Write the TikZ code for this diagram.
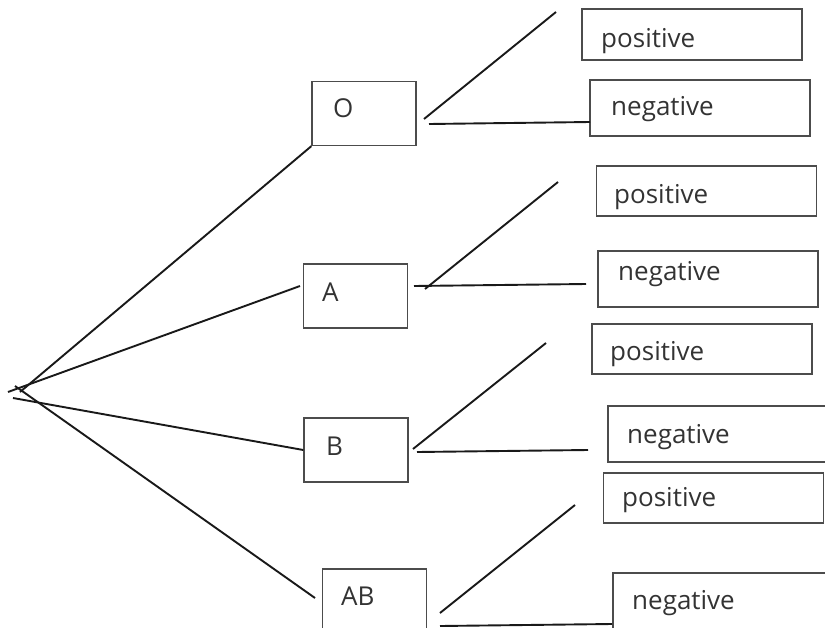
\documentclass[tikz,border=0pt]{standalone}
\usepackage{fontspec}
\setmainfont{Open Sans}
\begin{document}
\begin{tikzpicture}[x=1pt,y=-1pt,
  typebox/.style={draw=black!70,line width=1.3pt,minimum width=104pt,minimum height=64pt,inner sep=0pt},
  resbox/.style={draw=black!70,line width=1.3pt,minimum width=220pt,inner sep=0pt},
  lbl/.style={anchor=base west,inner sep=0pt,text=black!80,font=\fontsize{26}{30}\selectfont},
  branch/.style={line width=1.9pt,black!90}]
\useasboundingbox (0,0) rectangle (825,627);
\clip (0,0) rectangle (825,627);

% blood group boxes
\node[typebox] (O)  at (364,113.5) {};
\node[typebox] (A)  at (355.5,296) {};
\node[typebox] (B)  at (356,450) {};
\node[typebox] (AB) at (374.5,601) {};
\node[lbl] (Ot)  at (333,117) {O};
\node[lbl] (At)  at (322,301) {A};
\node[lbl] (Bt)  at (326,455) {B};
\node[lbl] (ABt) at (341,605) {AB};

% rhesus result boxes
\node[resbox,minimum height=51pt] (p1) at (692,34.5)  {};
\node[resbox,minimum height=56pt] (n1) at (700,108)   {};
\node[resbox,minimum height=50pt] (p2) at (706.5,191) {};
\node[resbox,minimum height=56pt] (n2) at (708,279)   {};
\node[resbox,minimum height=50pt] (p3) at (702,349)   {};
\node[resbox,minimum height=56pt] (n3) at (718,434)   {};
\node[resbox,minimum height=50pt] (p4) at (713.5,498) {};
\node[resbox,minimum height=56pt] (n4) at (723,601)   {};
\node[lbl] (p1t) at (601,47)  {positive};
\node[lbl] (n1t) at (611,115) {negative};
\node[lbl] (p2t) at (614,203) {positive};
\node[lbl] (n2t) at (618,280) {negative};
\node[lbl] (p3t) at (610,360) {positive};
\node[lbl] (n3t) at (627,443) {negative};
\node[lbl] (p4t) at (622,506) {positive};
\node[lbl] (n4t) at (632,609) {negative};

% root strokes
\coordinate (r1) at (20,392);
\coordinate (r2) at (8,392);
\coordinate (r3) at (13,398);
\coordinate (r4) at (15,386);
\coordinate (eA)  at (300,286);
\coordinate (eAB) at (315,598);
\draw[branch] (r1) -- (O.south west);
\draw[branch] (r2) -- (eA);
\draw[branch] (r3) -- (B.west);
\draw[branch] (r4) -- (eAB);

% branches from O
\coordinate (o1) at (424,119); \coordinate (o1e) at (556,12);
\coordinate (o2) at (429,124); \coordinate (o2e) at (590,122);
\draw[branch] (o1) -- (o1e);
\draw[branch] (o2) -- (o2e);
% branches from A
\coordinate (a1) at (425,289); \coordinate (a1e) at (558,182);
\coordinate (a2) at (414,286); \coordinate (a2e) at (586,284);
\draw[branch] (a1) -- (a1e);
\draw[branch] (a2) -- (a2e);
% branches from B
\coordinate (b1) at (413,449); \coordinate (b1e) at (546,343);
\coordinate (b2) at (417,452); \coordinate (b2e) at (588,450);
\draw[branch] (b1) -- (b1e);
\draw[branch] (b2) -- (b2e);
% branches from AB
\coordinate (c1) at (440,613); \coordinate (c1e) at (575,505);
\coordinate (c2) at (440,626); \coordinate (c2e) at (612,624);
\draw[branch] (c1) -- (c1e);
\draw[branch] (c2) -- (c2e);
\end{tikzpicture}
\end{document}
